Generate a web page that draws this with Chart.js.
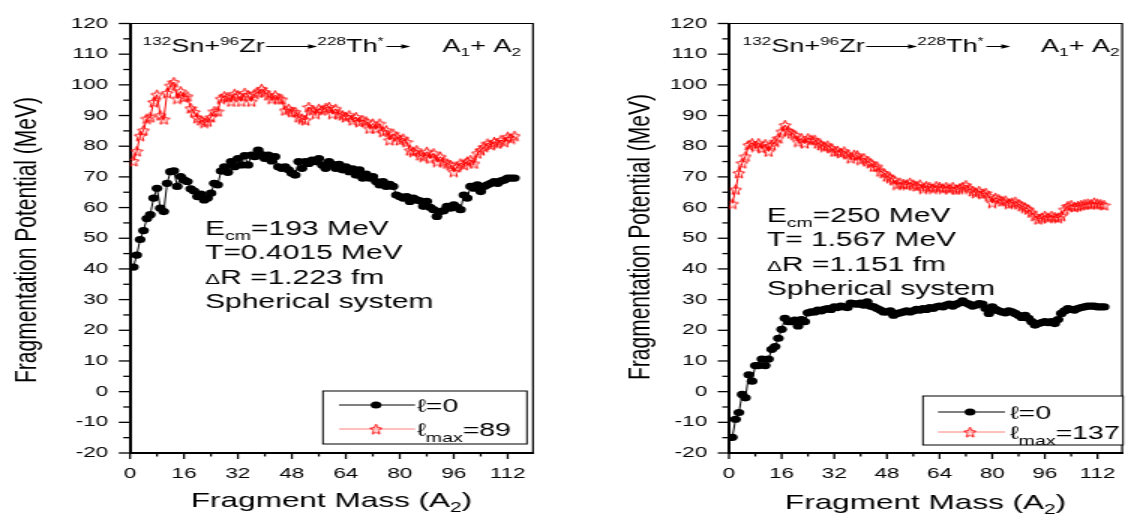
<!DOCTYPE html>
<html>
<head>
<meta charset="utf-8">
<script src="https://cdn.jsdelivr.net/npm/chart.js@4.4.0/dist/chart.umd.min.js"></script>
<style>
  html, body { margin: 0; padding: 0; background: #fff; overflow: hidden; width: 1128px; height: 523px; }
  .panel { position: absolute; top: 0; transform-origin: 0 0; transform: scaleX(1.5); }
  #leftPanel { left: 0; }
  #rightPanel { left: 564px; }
</style>
</head>
<body>
<div class="panel" id="leftPanel"><canvas id="leftChart" width="376" height="523"></canvas></div>
<div class="panel" id="rightPanel"><canvas id="rightChart" width="380" height="523"></canvas></div>
<script>
// Fragmentation potential vs fragment mass, 132Sn+96Zr -> 228Th*

// fragment mass A2 = 1 .. 114
const fragmentMass = Array.from({length: 114}, (_, i) => i + 1);

const xTickValues = [0, 16, 32, 48, 64, 80, 96, 112];
const yTickValues = [-20, -10, 0, 10, 20, 30, 40, 50, 60, 70, 80, 90, 100, 110, 120];

// left panel: Ecm = 193 MeV
const leftZeroL = [
  40.6, 44.5, 49.6, 52.5, 56.4, 57.7, 63.1, 66.3, 59.8, 58.7,
  67.9, 71.7, 72.0, 66.9, 70.1, 69.0, 68.5, 66.1, 65.4, 63.6,
  64.4, 62.5, 63.1, 64.7, 67.9, 67.4, 71.9, 73.3, 71.5, 75.0,
  73.3, 76.0, 73.9, 76.9, 73.9, 77.1, 76.6, 78.7, 77.3, 76.0,
  77.1, 75.2, 76.6, 73.3, 72.8, 73.3, 72.3, 71.2, 70.6, 75.0,
  72.8, 75.0, 74.4, 75.5, 75.0, 76.0, 73.9, 72.8, 75.0, 74.1,
  72.8, 74.1, 72.3, 73.3, 71.7, 72.6, 70.6, 72.3, 69.6, 70.9,
  69.6, 70.1, 68.5, 67.4, 68.5, 66.9, 67.6, 66.9, 64.1, 63.6,
  63.1, 63.6, 62.0, 63.1, 62.5, 62.2, 60.4, 62.0, 60.1, 59.3,
  57.1, 58.7, 59.0, 60.4, 59.8, 60.9, 60.1, 59.3, 64.1, 63.1,
  66.9, 66.3, 67.4, 65.2, 66.9, 67.4, 67.9, 68.5, 67.9, 68.7,
  69.0, 69.6, 69.6, 69.6
];
const leftMaxL = [
  75.2, 78.4, 83.4, 85.2, 89.0, 89.5, 94.4, 96.8, 90.1, 88.8,
  97.4, 99.8, 100.9, 95.5, 97.9, 96.0, 96.3, 92.4, 91.2, 89.2,
  88.5, 87.7, 88.1, 89.5, 91.4, 91.4, 95.5, 96.3, 96.0, 94.6,
  97.1, 96.6, 94.6, 97.4, 96.6, 94.6, 97.1, 97.6, 98.7, 97.6,
  96.6, 95.5, 96.6, 95.5, 95.3, 91.7, 92.2, 91.2, 91.2, 89.5,
  89.0, 88.5, 92.8, 91.7, 90.6, 92.2, 91.7, 92.5, 92.8, 90.6,
  92.2, 90.6, 90.1, 89.5, 90.1, 88.5, 89.5, 87.9, 88.5, 88.1,
  85.8, 87.4, 85.8, 87.4, 84.7, 85.2, 82.0, 84.1, 83.1, 82.0,
  82.5, 81.4, 78.7, 78.2, 78.7, 77.1, 76.6, 78.2, 76.0, 77.7,
  75.0, 76.6, 75.0, 74.4, 73.9, 71.7, 73.3, 74.4, 73.9, 75.0,
  75.5, 74.4, 77.7, 78.7, 79.8, 80.9, 80.4, 81.4, 80.9, 82.0,
  81.4, 83.1, 82.5, 83.4
];

// right panel: Ecm = 250 MeV
const rightZeroL = [
  -14.9, -9.0, -6.8, -0.9, -2.0, 5.5, 3.4, 8.5, 8.5, 10.6,
  8.5, 10.6, 13.8, 14.7, 17.4, 20.3, 23.9, 22.8, 22.8, 23.3,
  21.4, 23.5, 22.8, 25.7, 26.0, 26.0, 26.6, 26.3, 26.8, 27.1,
  26.8, 27.6, 27.4, 27.9, 27.6, 27.4, 28.9, 28.7, 28.5, 28.9,
  28.2, 29.3, 27.9, 27.6, 27.1, 26.6, 26.0, 26.0, 26.3, 24.9,
  25.5, 25.7, 26.0, 26.3, 26.0, 26.3, 26.8, 26.6, 27.1, 26.8,
  27.4, 27.1, 27.6, 27.9, 27.6, 28.2, 28.5, 27.9, 28.5, 28.9,
  29.6, 28.9, 28.5, 27.9, 28.2, 28.7, 28.5, 27.1, 25.5, 27.6,
  26.8, 26.3, 26.0, 25.7, 26.3, 26.0, 25.5, 24.9, 24.2, 24.9,
  23.9, 22.8, 21.7, 22.2, 22.5, 22.8, 22.5, 22.8, 22.2, 23.5,
  25.5, 26.3, 27.1, 26.8, 26.6, 27.1, 27.4, 27.6, 27.9, 27.9,
  27.9, 27.6, 27.6, 27.6
];
const rightMaxL = [
  61.3, 65.9, 71.3, 74.5, 76.7, 80.4, 81.0, 79.9, 81.0, 79.4,
  80.7, 78.3, 80.4, 81.5, 82.6, 84.8, 86.9, 85.0, 84.2, 83.7,
  81.5, 82.6, 81.0, 82.6, 82.1, 82.1, 81.0, 80.4, 79.9, 80.2,
  79.4, 78.3, 78.5, 77.8, 78.3, 77.4, 76.1, 77.2, 77.0, 75.6,
  76.1, 75.1, 74.5, 73.4, 73.4, 71.8, 71.3, 70.2, 69.7, 69.1,
  67.5, 68.1, 67.7, 67.5, 68.1, 67.5, 67.0, 67.5, 66.2, 67.0,
  66.7, 66.2, 67.0, 66.7, 66.2, 66.7, 66.2, 66.7, 65.9, 66.2,
  66.7, 67.3, 66.2, 65.4, 64.8, 65.4, 64.5, 64.8, 63.7, 61.6,
  63.2, 62.7, 62.1, 62.3, 61.3, 61.6, 61.9, 61.1, 60.5, 60.0,
  59.4, 58.4, 57.3, 56.2, 56.7, 57.3, 56.7, 57.3, 56.9, 56.7,
  57.3, 59.4, 60.5, 60.8, 60.2, 60.5, 60.8, 61.1, 61.3, 61.1,
  61.6, 61.3, 61.1, 60.8
];

const FONT = "'Liberation Sans', Arial, Helvetica, sans-serif";

// open five-point star used as the marker of the l_max curve
function makeStar(w, h, color) {
  const c = document.createElement('canvas');
  c.width = w; c.height = h;
  const g = c.getContext('2d');
  const cx = w / 2, cy = h / 2 + 0.7;
  const rx = w / 2 - 0.5, ry = h / 2 - 0.5;
  g.beginPath();
  for (let i = 0; i < 10; i++) {
    const a = -Math.PI / 2 + i * Math.PI / 5;
    const k = i % 2 ? 0.45 : 1;
    g.lineTo(cx + rx * k * Math.cos(a), cy + ry * k * Math.sin(a));
  }
  g.closePath();
  g.strokeStyle = color;
  g.lineWidth = 1;
  g.stroke();
  return c;
}
const starMarker = makeStar(9, 12, '#ff0000');

// draw a row of text pieces (super/subscripts, arrows), returns end x
function drawRuns(ctx, runs, x, y) {
  for (const r of runs) {
    if (r.arrow) {
      const ay = y + (r.dy || 0);
      ctx.beginPath();
      ctx.moveTo(x, ay);
      ctx.lineTo(x + r.arrow - 3, ay);
      ctx.lineWidth = 1;
      ctx.stroke();
      ctx.beginPath();
      ctx.moveTo(x + r.arrow, ay);
      ctx.lineTo(x + r.arrow - 6, ay - 2.2);
      ctx.lineTo(x + r.arrow - 6, ay + 2.2);
      ctx.closePath();
      ctx.fill();
      x += r.arrow + (r.gap || 0);
      continue;
    }
    ctx.font = `${r.size}px ${FONT}`;
    ctx.fillText(r.t, x, y + (r.dy || 0));
    x += ctx.measureText(r.t).width + (r.gap || 0);
  }
  return x;
}
function runsWidth(ctx, runs) {
  let w = 0;
  for (const r of runs) {
    if (r.arrow) { w += r.arrow + (r.gap || 0); continue; }
    ctx.font = `${r.size}px ${FONT}`;
    w += ctx.measureText(r.t).width + (r.gap || 0);
  }
  return w;
}

const decorPlugin = {
  id: 'decor',
  afterDraw(chart, args, cfg) {
    const {ctx, chartArea: a, scales: {x, y}} = chart;
    ctx.save();
    ctx.fillStyle = '#000';
    ctx.strokeStyle = '#000';
    ctx.textAlign = 'left';
    ctx.textBaseline = 'alphabetic';

    // frame top / right
    ctx.lineWidth = 1.2;
    ctx.beginPath();
    ctx.moveTo(a.left, a.top);
    ctx.lineTo(a.right, a.top);
    ctx.lineTo(a.right, a.bottom);
    ctx.stroke();

    // tick marks, major + minor
    ctx.lineWidth = 1.3;
    for (let v = -20; v <= 120; v += 5) {
      const py = y.getPixelForValue(v);
      const len = v % 10 === 0 ? 7.5 : 4.5;
      ctx.beginPath();
      ctx.moveTo(a.left - len, py);
      ctx.lineTo(a.left, py);
      ctx.stroke();
    }
    for (let v = 0; v <= x.max; v += 8) {
      const px = x.getPixelForValue(v);
      const len = v % 16 === 0 ? 6 : 3.5;
      ctx.beginPath();
      ctx.moveTo(px, a.bottom);
      ctx.lineTo(px, a.bottom + len);
      ctx.stroke();
    }

    // axis titles
    const xt = [{t: 'Fragment Mass (A', size: 21}, {t: '2', size: 14, dy: 5}, {t: ')', size: 21}];
    drawRuns(ctx, xt, (a.left + a.right) / 2 - runsWidth(ctx, xt) / 2, cfg.xTitleY);

    ctx.save();
    ctx.translate(cfg.yTitleX, cfg.yTitleY);
    ctx.rotate(-Math.PI / 2);
    ctx.textAlign = 'center';
    ctx.textBaseline = 'middle';
    ctx.font = `21px ${FONT}`;
    ctx.fillText('Fragmentation Potential (MeV)', 0, 0);
    ctx.restore();

    // reaction
    const sup = -7.5;
    drawRuns(ctx, [
      {t: '132', size: 11.5, dy: sup}, {t: 'Sn+', size: 18}, {t: '96', size: 11.5, dy: sup},
      {t: 'Zr', size: 18, gap: 1}, {arrow: cfg.arrow1, dy: -5.5},
      {t: '228', size: 11.5, dy: sup}, {t: 'Th', size: 18}, {t: '*', size: 10, dy: sup, gap: 2},
      {arrow: 16, dy: -5.5}
    ], cfg.reactX, cfg.reactY);
    drawRuns(ctx, [
      {t: 'A', size: 18}, {t: '1', size: 11.5, dy: 4}, {t: '+ A', size: 18}, {t: '2', size: 11.5, dy: 4}
    ], cfg.productsX, cfg.reactY);

    // conditions
    const rows = [
      [{t: 'E', size: 20}, {t: 'cm', size: 13, dy: 5}, {t: cfg.ecm, size: 20}],
      [{t: cfg.temp, size: 20}],
      [{t: 'Δ', size: 15}, {t: cfg.dr, size: 20}],
      [{t: 'Spherical system', size: 20}]
    ];
    rows.forEach((r, i) => drawRuns(ctx, r, cfg.noteX, cfg.noteY + i * 24.3));

    // legend
    const L = cfg.legend;
    ctx.fillStyle = '#fff';
    ctx.fillRect(L.x, L.y, L.w, L.h);
    ctx.lineWidth = 1;
    ctx.strokeStyle = '#000';
    ctx.strokeRect(L.x, L.y, L.w, L.h);
    ctx.beginPath();
    ctx.moveTo(L.line0, L.row1);
    ctx.lineTo(L.line1, L.row1);
    ctx.stroke();
    ctx.fillStyle = '#000';
    ctx.beginPath();
    ctx.arc(L.mark, L.row1, 3.6, 0, Math.PI * 2);
    ctx.fill();
    ctx.strokeStyle = '#ff8080';
    ctx.beginPath();
    ctx.moveTo(L.line0, L.row2);
    ctx.lineTo(L.line1, L.row2);
    ctx.stroke();
    ctx.drawImage(starMarker, L.mark - starMarker.width / 2, L.row2 - starMarker.height / 2);
    ctx.fillStyle = '#000';
    drawRuns(ctx, [{t: 'ℓ', size: 18}, {t: '=0', size: 19}], L.text, L.row1 + 7);
    drawRuns(ctx, [{t: 'ℓ', size: 18}, {t: 'max', size: 13, dy: 6}, {t: '=' + cfg.lmax, size: 19}], L.text, L.row2 + 7);

    ctx.restore();
  }
};

function buildChart(canvasId, zero, lmax, cfg) {
  const canvas = document.getElementById(canvasId);
  const tickFont = {family: FONT, size: 15};
  return new Chart(canvas, {
    type: 'line',
    data: {
      datasets: [
        {
          label: 'l=0',
          data: fragmentMass.map((m, i) => ({x: m, y: zero[i]})),
          borderColor: '#000',
          borderWidth: 1,
          pointStyle: 'circle',
          pointRadius: 3.6,
          pointBackgroundColor: '#000',
          pointBorderWidth: 0,
          tension: 0
        },
        {
          label: 'l max',
          data: fragmentMass.map((m, i) => ({x: m, y: lmax[i]})),
          borderColor: '#ff0000',
          borderWidth: 1,
          pointStyle: starMarker,
          pointRadius: 5,
          tension: 0
        }
      ]
    },
    options: {
      responsive: false,
      animation: false,
      devicePixelRatio: 1,
      layout: {padding: {left: 0, right: cfg.padRight, top: 21, bottom: 0}},
      plugins: {legend: {display: false}, tooltip: {enabled: false}, decor: cfg},
      scales: {
        x: {
          type: 'linear',
          min: 0,
          max: 119.5,
          afterBuildTicks: s => { s.ticks = xTickValues.map(v => ({value: v})); },
          afterFit: s => { s.height = 70; },
          grid: {display: false, drawTicks: false},
          border: {display: true, color: '#000', width: 2},
          ticks: {font: tickFont, color: '#000', padding: 12, maxRotation: 0, autoSkip: false}
        },
        y: {
          type: 'linear',
          min: -20,
          max: 120,
          afterBuildTicks: s => { s.ticks = yTickValues.map(v => ({value: v})); },
          afterFit: s => { s.width = cfg.axisLeft; },
          grid: {display: false, drawTicks: false},
          border: {display: true, color: '#000', width: 2},
          ticks: {font: tickFont, color: '#000', padding: 14.5, autoSkip: false}
        }
      }
    },
    plugins: [decorPlugin]
  });
}

buildChart('leftChart', leftZeroL, leftMaxL, {
  axisLeft: 86.67, padRight: 20.67,
  xTitleY: 507, yTitleX: 18, yTitleY: 240,
  reactX: 95, reactY: 52, arrow1: 34, productsX: 295,
  ecm: '=193 MeV', temp: 'T=0.4015 MeV', dr: 'R =1.223 fm',
  noteX: 136.7, noteY: 235,
  lmax: '89',
  legend: {x: 215.3, y: 391, w: 136, h: 53, row1: 405, row2: 429, line0: 226, line1: 276.7, mark: 250.7, text: 278}
});

buildChart('rightChart', rightZeroL, rightMaxL, {
  axisLeft: 110, padRight: 1.33,
  xTitleY: 509, yTitleX: 51.3, yTitleY: 237,
  reactX: 119, reactY: 52, arrow1: 34, productsX: 318,
  ecm: '=250 MeV', temp: 'T= 1.567 MeV', dr: 'R =1.151 fm',
  noteX: 135.2, noteY: 222,
  lmax: '137',
  legend: {x: 239.3, y: 396, w: 133.4, h: 49, row1: 412, row2: 432, line0: 249.3, line1: 294, mark: 270.7, text: 297.3}
});
</script>
</body>
</html>
